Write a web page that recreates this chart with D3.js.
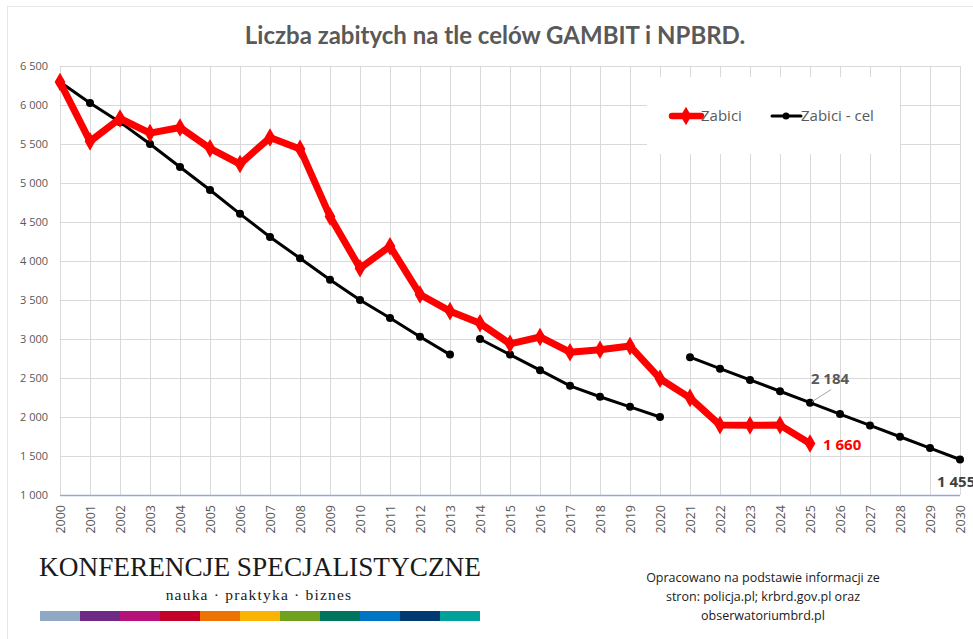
<!DOCTYPE html>
<html><head><meta charset="utf-8">
<script src="https://cdn.jsdelivr.net/npm/d3@7"></script>
<style>body{margin:0;background:#fff;}svg{display:block;}</style>
</head><body>
<svg id="c" width="973" height="639"></svg>
<script>
const years = d3.range(2000, 2031);
const zabiciYears = d3.range(2000, 2026);
const zabici = [6294,5534,5827,5640,5712,5444,5243,5583,5437,4572,3907,4189,3571,3357,3202,2938,3026,2831,2862,2909,2491,2245,1896,1893,1896,1660];
const gambitYears = d3.range(2000, 2014);
const gambit = [6294,6026,5780,5500,5205,4910,4605,4308,4035,3760,3500,3270,3030,2800];
const npbrd1Years = d3.range(2014, 2021);
const npbrd1 = [3000,2800,2600,2400,2260,2130,2000];
const npbrd2Years = d3.range(2021, 2031);
const npbrd2 = [2767,2620,2475,2330,2184,2038,1892,1747,1601,1455];
const yTicks = [1000,1500,2000,2500,3000,3500,4000,4500,5000,5500,6000,6500];
const barColors = ["#8fa9c4","#6e2a85","#b5137a","#c4002a","#ee7203","#f9b300","#6fa01e","#00755e","#0075c4","#003a70","#00a19a"];

const svg = d3.select("#c");
const fmt = v => d3.format(",")(v).replace(/,/g, " ");
const x = d3.scaleLinear().domain([2000, 2030]).range([60, 960]);
const y = d3.scaleLinear().domain([1000, 6500]).range([495, 66]);

// chart border
svg.append("rect").attr("x",7.5).attr("y",6.5).attr("width",980).attr("height",640)
  .attr("fill","#fff").attr("stroke","#e6e6e6");

// title
svg.append("text").attr("x",495).attr("y",44).attr("text-anchor","middle")
  .attr("font-family","Lato, 'Open Sans', sans-serif").attr("font-weight","bold")
  .attr("font-size",24).attr("fill","#595959")
  .text("Liczba zabitych na tle celów GAMBIT i NPBRD.");

// grid
const g = svg.append("g");
g.selectAll(".hg").data(yTicks).join("line")
  .attr("x1",60).attr("x2",960).attr("y1",d=>y(d)+0.5).attr("y2",d=>y(d)+0.5)
  .attr("stroke","#d9d9d9").attr("stroke-width",1);
g.selectAll(".vg").data(years).join("line")
  .attr("y1",66).attr("y2",495).attr("x1",d=>x(d)+0.5).attr("x2",d=>x(d)+0.5)
  .attr("stroke","#d9d9d9").attr("stroke-width",1);

// y axis labels
const yAxis = d3.axisLeft(y).tickValues(yTicks).tickSize(0).tickPadding(0).tickFormat(fmt);
const ya = svg.append("g").attr("transform","translate(48,0)").call(yAxis);
ya.select(".domain").remove();
ya.selectAll("text").attr("font-family","'Open Sans', sans-serif").attr("font-size",11).attr("fill","#595959");

// x axis
const xAxis = d3.axisBottom(x).tickValues(years).tickSize(0).tickPadding(0).tickFormat(d3.format("d"));
const xa = svg.append("g").attr("transform","translate(0,495)").call(xAxis);
xa.select(".domain").remove();
xa.selectAll("text").attr("font-family","'Open Sans', sans-serif").attr("font-size",12.5).attr("fill","#595959")
  .attr("transform","rotate(-90)").attr("text-anchor","end").attr("dy","0.35em").attr("x",-10).attr("y",0);
svg.append("line").attr("x1",60).attr("x2",960).attr("y1",495.5).attr("y2",495.5).attr("stroke","#8eaadb").attr("stroke-width",1.5);

// legend box
svg.append("rect").attr("x",647).attr("y",77).attr("width",253).attr("height",77).attr("fill","#fff");

const line = d3.line().x(d=>x(d[0])).y(d=>y(d[1]));
function blackSeries(ys, vs){
  const pts = ys.map((yr,i)=>[yr, vs[i]]);
  svg.append("path").attr("d", line(pts)).attr("fill","none").attr("stroke","#000").attr("stroke-width",3);
  svg.append("g").selectAll("circle").data(pts).join("circle")
    .attr("cx",d=>x(d[0])).attr("cy",d=>y(d[1])).attr("r",4).attr("fill","#000");
}
blackSeries(gambitYears, gambit);
blackSeries(npbrd1Years, npbrd1);
blackSeries(npbrd2Years, npbrd2);

// red series
const redPts = zabiciYears.map((yr,i)=>[yr, zabici[i]]);
svg.append("path").attr("d", line(redPts)).attr("fill","none").attr("stroke","#ff0000").attr("stroke-width",7).attr("stroke-linejoin","round");
const diamond = d3.symbol().type(d3.symbolDiamond).size(100);
svg.append("g").selectAll("path").data(redPts).join("path")
  .attr("d", diamond).attr("transform",d=>`translate(${x(d[0])},${y(d[1])})`).attr("fill","#ff0000");

// legend
const lg = svg.append("g").attr("font-family","'Open Sans', sans-serif").attr("font-size",15).attr("fill","#595959");
lg.append("line").attr("x1",672).attr("x2",701).attr("y1",116).attr("y2",116).attr("stroke","#ff0000").attr("stroke-width",6.5).attr("stroke-linecap","round");
lg.append("path").attr("d",diamond).attr("transform","translate(686,116)").attr("fill","#ff0000");
lg.append("text").attr("x",701).attr("y",121).text("Zabici");
lg.append("line").attr("x1",772).attr("x2",801).attr("y1",116).attr("y2",116).attr("stroke","#000").attr("stroke-width",3).attr("stroke-linecap","round");
lg.append("circle").attr("cx",786).attr("cy",116).attr("r",3.5).attr("fill","#000");
lg.append("text").attr("x",801).attr("y",121).text("Zabici - cel");

// data labels
const i2025 = npbrd2Years.indexOf(2025);
svg.append("line").attr("x1",x(2025)+2).attr("y1",y(npbrd2[i2025])-1).attr("x2",x(2025)+21).attr("y2",y(npbrd2[i2025])-13)
  .attr("stroke","#a6a6a6").attr("stroke-width",1);
svg.append("text").attr("x",x(2025)+20).attr("y",y(npbrd2[i2025])-19).attr("text-anchor","middle")
  .attr("font-family","'Open Sans', sans-serif").attr("font-weight","bold").attr("font-size",15).attr("fill","#595959")
  .text(fmt(npbrd2[i2025]));
svg.append("text").attr("x",x(2025)+13).attr("y",y(zabici[zabici.length-1])+6)
  .attr("font-family","'Open Sans', sans-serif").attr("font-weight","bold").attr("font-size",15).attr("fill","#ff0000")
  .text(fmt(zabici[zabici.length-1]));
svg.append("text").attr("x",x(2030)-23).attr("y",y(npbrd2[npbrd2.length-1])+27)
  .attr("font-family","'Open Sans', sans-serif").attr("font-weight","bold").attr("font-size",15).attr("fill","#404040")
  .text(fmt(npbrd2[npbrd2.length-1]));

// logo
svg.append("text").attr("x",260).attr("y",576).attr("text-anchor","middle")
  .attr("font-family","'Liberation Serif', 'DejaVu Serif', serif").attr("font-size",28).attr("fill","#1a1a1a")
  .attr("textLength",442).attr("lengthAdjust","spacingAndGlyphs")
  .text("KONFERENCJE SPECJALISTYCZNE");
svg.append("text").attr("x",259).attr("y",600).attr("text-anchor","middle")
  .attr("font-family","'Liberation Serif', 'DejaVu Serif', serif").attr("font-size",15.5).attr("fill","#1a1a1a")
  .attr("letter-spacing",1.2)
  .text("nauka · praktyka · biznes");
svg.append("g").selectAll("rect").data(barColors).join("rect")
  .attr("x",(d,i)=>40+i*40).attr("y",611).attr("width",40).attr("height",10).attr("fill",d=>d);

// source
const src = svg.append("text").attr("text-anchor","middle")
  .attr("font-family","'Open Sans', sans-serif").attr("font-size",12.5).attr("fill","#1a1a1a");
["Opracowano na podstawie informacji ze","stron: policja.pl; krbrd.gov.pl oraz","obserwatoriumbrd.pl"].forEach((t,i)=>{
  src.append("tspan").attr("x",763).attr("y",582+i*19).text(t);
});
</script>
</body></html>
